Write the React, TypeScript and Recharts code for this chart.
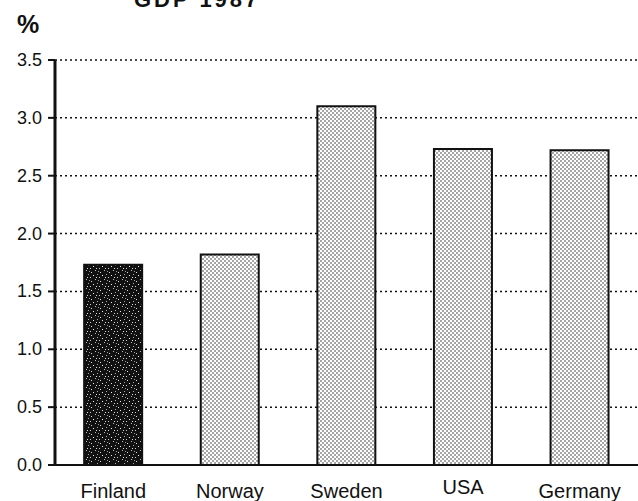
import React from "react";
import { BarChart, Bar, XAxis, YAxis, CartesianGrid, Cell } from "recharts";

const countries = ["Finland", "Norway", "Sweden", "USA", "Germany"];
const values = [1.73, 1.82, 3.1, 2.73, 2.72];
const yTicks = [0, 0.5, 1.0, 1.5, 2.0, 2.5, 3.0, 3.5];
const titleText = "GDP 1987";
const unitLabel = "%";

const data = countries.map((c, i) => ({ country: c, value: values[i] }));

const FONT = "'Liberation Sans', Arial, Helvetica, sans-serif";

const XTick = (props: any) => {
  const { x, y, payload } = props;
  const raised = payload.value === "USA";
  return (
    <text
      x={x}
      y={y + (raised ? 21 : 25)}
      textAnchor="middle"
      fontFamily={FONT}
      fontSize={20}
      fill="#111"
    >
      {payload.value}
    </text>
  );
};

const YTick = (props: any) => {
  const { x, y, payload } = props;
  return (
    <text
      x={x}
      y={y + 6}
      textAnchor="end"
      fontFamily={FONT}
      fontSize={18}
      fill="#111"
    >
      {Number(payload.value).toFixed(1)}
    </text>
  );
};

export default function App() {
  return (
    <div style={{ position: "absolute", left: 0, top: 0, width: 638, height: 501, background: "#fff", overflow: "hidden" }}>
      <svg width={638} height={501} style={{ position: "absolute", left: 0, top: 0 }}>
        <text x={134} y={7} fontFamily={FONT} fontSize={22} fontWeight={700} fill="#111" letterSpacing={3}>
          {titleText}
        </text>
        <text x={17} y={33} fontFamily={FONT} fontSize={25} fontWeight={700} fill="#111">
          {unitLabel}
        </text>
      </svg>
      <div style={{ position: "absolute", left: 0, top: 0 }}>
        <BarChart
          width={638}
          height={501}
          data={data}
          margin={{ top: 60, right: 0, bottom: 0, left: 0 }}
          barCategoryGap="25%"
        >
          <defs>
            <pattern id="lightDots" patternUnits="userSpaceOnUse" width={4} height={4}>
              <rect width={4} height={4} fill="#fff" />
              <circle cx={1} cy={1} r={0.8} fill="#333" />
              <circle cx={3} cy={3} r={0.8} fill="#333" />
            </pattern>
            <pattern id="darkNoise" patternUnits="userSpaceOnUse" width={9} height={9}>
              <rect width={9} height={9} fill="#111" />
              <rect x={1} y={2} width={1} height={1} fill="#ddd" />
              <rect x={5} y={0} width={1} height={1} fill="#bbb" />
              <rect x={3} y={5} width={1} height={1} fill="#eee" />
              <rect x={7} y={4} width={1} height={1} fill="#aaa" />
              <rect x={0} y={7} width={1} height={1} fill="#ccc" />
              <rect x={6} y={7} width={1} height={1} fill="#ddd" />
              <rect x={8} y={1} width={1} height={1} fill="#999" />
            </pattern>
          </defs>
          <CartesianGrid
            horizontal={true}
            vertical={false}
            stroke="#111"
            strokeWidth={1.5}
            strokeDasharray="2 3"
          />
          <XAxis
            dataKey="country"
            height={36}
            tickLine={false}
            axisLine={{ stroke: "#111", strokeWidth: 2 }}
            tick={<XTick />}
            interval={0}
          />
          <YAxis
            width={55}
            domain={[0, 3.5]}
            ticks={yTicks}
            interval={0}
            tickSize={7}
            tickMargin={6}
            axisLine={{ stroke: "#111", strokeWidth: 3 }}
            tickLine={{ stroke: "#111", strokeWidth: 2 }}
            tick={<YTick />}
          />
          <Bar dataKey="value" isAnimationActive={false} stroke="#111" strokeWidth={2}>
            {data.map((d, i) => (
              <Cell key={d.country} fill={i === 0 ? "url(#darkNoise)" : "url(#lightDots)"} />
            ))}
          </Bar>
        </BarChart>
      </div>
    </div>
  );
}
